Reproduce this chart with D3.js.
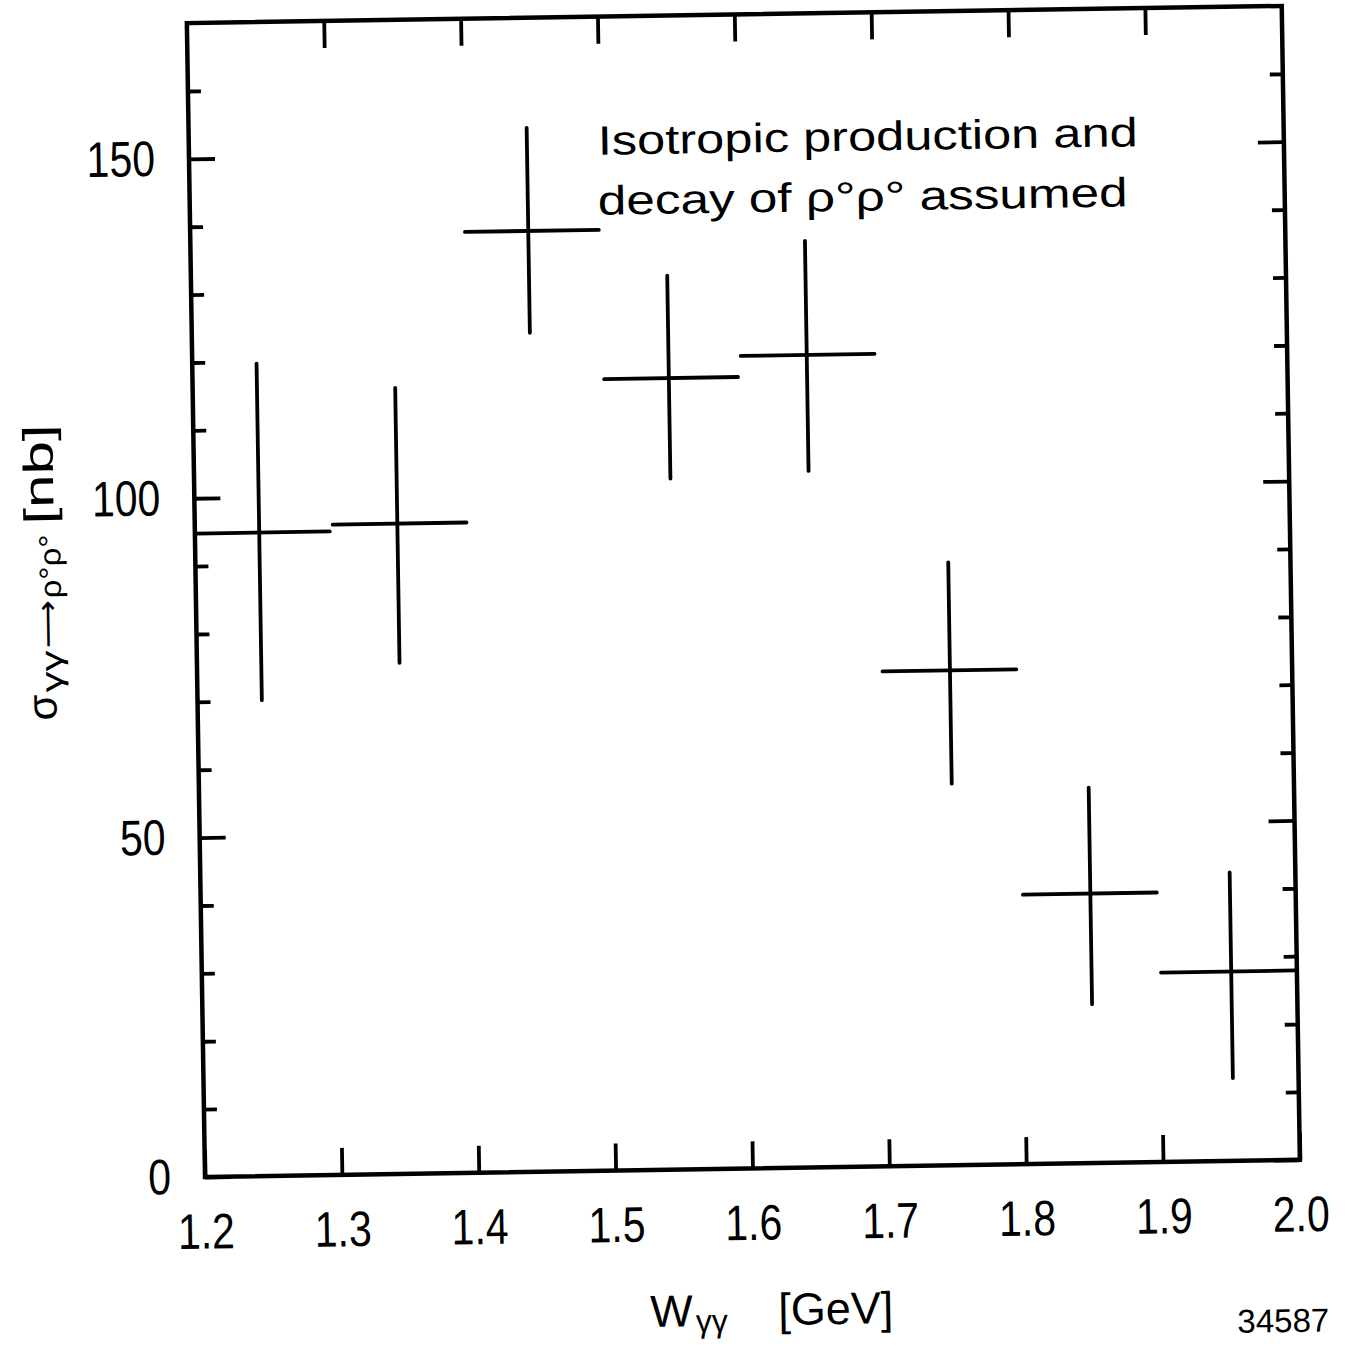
<!DOCTYPE html>
<meta charset="utf-8">

<!-- Load d3.js -->
<script src="https://d3js.org/d3.v7.min.js"></script>

<style>
  body { margin: 0; background: #fff; }
  text { font-family: "Liberation Sans", Arial, sans-serif; fill: #000; }
</style>

<!-- Create a div where the graph will take place -->
<div id="chart"></div>

<script>

// data: W(gamma gamma) bins and cross section [nb]
var binLo   = [1.2, 1.3, 1.4, 1.5, 1.6, 1.7, 1.8, 1.9];
var binHi   = [1.3, 1.4, 1.5, 1.6, 1.7, 1.8, 1.9, 2.0];
var wCenter = [1.247, 1.348, 1.447, 1.548, 1.649, 1.750, 1.850, 1.952];
var sigma     = [94.8, 95.8, 138.6, 116.6, 119.7, 72.9, 39.7, 27.9];
var sigmaUp   = [119.7, 115.8, 153.8, 131.7, 136.5, 88.8, 55.3, 42.5];
var sigmaDown = [70.1, 75.3, 123.6, 101.8, 102.6, 56.2, 23.4, 12.2];

// tick values
var wTicks = [1.2, 1.3, 1.4, 1.5, 1.6, 1.7, 1.8, 1.9, 2.0];
var wTopTicks = [1.3, 1.4, 1.5, 1.6, 1.7, 1.8, 1.9];
var sigmaMajor = [0, 50, 100, 150];
var sigmaMinor = [10, 20, 30, 40, 60, 70, 80, 90, 110, 120, 130, 140, 160];

// set the dimensions of the graph
var width = 1095,
    height = 1154,
    marginLeft = 205,
    marginTop = 23;

var svg = d3.select("#chart")
  .append("svg")
    .attr("width", 1353)
    .attr("height", 1354);

svg.append("rect")
  .attr("width", 1353)
  .attr("height", 1354)
  .attr("fill", "#fff");

// the scanned figure is a little tilted, so everything sits in a rotated group
var root = svg.append("g")
  .attr("transform", "rotate(-0.9 " + marginLeft + " " + (marginTop + height) + ")");

var g = root.append("g")
  .attr("transform", "translate(" + marginLeft + "," + marginTop + ")");

var x = d3.scaleLinear()
  .domain([1.2, 2.0])
  .range([0, width]);

var y = d3.scaleLinear()
  .domain([0, 170])
  .range([height, 0]);

function styleAxis(sel) {
  sel.select(".domain").remove();
  sel.selectAll("line")
    .attr("stroke", "#000")
    .attr("stroke-width", 3.8);
  sel.selectAll("text")
    .attr("font-family", "Liberation Sans, Arial, sans-serif")
    .attr("font-size", 50)
    .attr("fill", "#000")
    .attr("transform", "scale(0.82,1)");
}

// bottom axis with labels
g.append("g")
  .attr("transform", "translate(0," + height + ")")
  .call(d3.axisBottom(x)
    .tickValues(wTicks)
    .tickSize(-27)
    .tickPadding(36)
    .tickFormat(d3.format(".1f")))
  .call(styleAxis);

// top axis, ticks only
g.append("g")
  .call(d3.axisTop(x)
    .tickValues(wTopTicks)
    .tickSize(-27)
    .tickFormat(""))
  .call(styleAxis);

// left axis: major with labels, minor ticks
g.append("g")
  .call(d3.axisLeft(y)
    .tickValues(sigmaMajor)
    .tickSize(-26)
    .tickPadding(41.5)
    .tickFormat(d3.format("d")))
  .call(styleAxis);

g.append("g")
  .call(d3.axisLeft(y)
    .tickValues(sigmaMinor)
    .tickSize(-13)
    .tickFormat(""))
  .call(styleAxis);

// right axis, ticks only
g.append("g")
  .attr("transform", "translate(" + width + ",0)")
  .call(d3.axisRight(y)
    .tickValues(sigmaMajor)
    .tickSize(-26)
    .tickFormat(""))
  .call(styleAxis);

g.append("g")
  .attr("transform", "translate(" + width + ",0)")
  .call(d3.axisRight(y)
    .tickValues(sigmaMinor)
    .tickSize(-13)
    .tickFormat(""))
  .call(styleAxis);

// frame
g.append("rect")
  .attr("width", width)
  .attr("height", height)
  .attr("fill", "none")
  .attr("stroke", "#000")
  .attr("stroke-width", 4.5);

// the crosses: bin width horizontally, error vertically
var points = wCenter.map(function(w, i) {
  return { w: w, lo: binLo[i], hi: binHi[i], s: sigma[i], up: sigmaUp[i], down: sigmaDown[i] };
});

g.selectAll(".hbar")
  .data(points)
  .enter()
  .append("line")
    .attr("class", "hbar")
    .attr("x1", function(d) { return x(d.lo) + 1; })
    .attr("x2", function(d) { return x(d.hi) - 2; })
    .attr("y1", function(d) { return y(d.s); })
    .attr("y2", function(d) { return y(d.s); })
    .attr("stroke", "#000")
    .attr("stroke-width", 3.8)
    .attr("stroke-linecap", "round");

g.selectAll(".vbar")
  .data(points)
  .enter()
  .append("line")
    .attr("class", "vbar")
    .attr("x1", function(d) { return x(d.w); })
    .attr("x2", function(d) { return x(d.w); })
    .attr("y1", function(d) { return y(d.up); })
    .attr("y2", function(d) { return y(d.down); })
    .attr("stroke", "#000")
    .attr("stroke-width", 3.8)
    .attr("stroke-linecap", "round");

// annotation
root.append("text")
  .attr("x", 614)
  .attr("y", 161)
  .attr("font-size", 41)
  .attr("textLength", 540)
  .attr("lengthAdjust", "spacingAndGlyphs")
  .text("Isotropic production and");

root.append("text")
  .attr("x", 613)
  .attr("y", 221)
  .attr("font-size", 41)
  .attr("textLength", 530)
  .attr("lengthAdjust", "spacingAndGlyphs")
  .text("decay of \u03c1\u00b0\u03c1\u00b0 assumed");

// y label, drawn as pieces along a rotated baseline
var ylab = root.append("g")
  .attr("transform", "translate(64,718) rotate(-90)");
ylab.append("text")
  .attr("x", 0)
  .attr("font-size", 42)
  .text("\u03c3");
ylab.append("text")
  .attr("x", 28)
  .attr("y", 6)
  .attr("font-size", 30)
  .attr("textLength", 42)
  .attr("lengthAdjust", "spacingAndGlyphs")
  .text("\u03b3\u03b3");
ylab.append("text")
  .attr("x", 72)
  .attr("y", 2)
  .attr("font-family", "DejaVu Sans, sans-serif")
  .attr("font-size", 30)
  .attr("textLength", 48)
  .attr("lengthAdjust", "spacingAndGlyphs")
  .text("\u27f6");
ylab.append("text")
  .attr("x", 122)
  .attr("y", 6)
  .attr("font-size", 30)
  .attr("textLength", 64)
  .attr("lengthAdjust", "spacingAndGlyphs")
  .text("\u03c1\u00b0\u03c1\u00b0");
ylab.append("text")
  .attr("x", 196)
  .attr("font-size", 42)
  .attr("textLength", 100)
  .attr("lengthAdjust", "spacingAndGlyphs")
  .text("[nb]");

// x label
var xlab = root.append("text")
  .attr("x", 648)
  .attr("y", 1334)
  .attr("font-size", 45);
xlab.append("tspan").text("W");
xlab.append("tspan").attr("font-size", 32).attr("dy", 6).attr("dx", 3).text("\u03b3\u03b3");

root.append("text")
  .attr("x", 776)
  .attr("y", 1334)
  .attr("font-size", 45)
  .text("[GeV]");

// figure number
root.append("text")
  .attr("x", 1235)
  .attr("y", 1349)
  .attr("font-size", 33)
  .text("34587");

</script>
